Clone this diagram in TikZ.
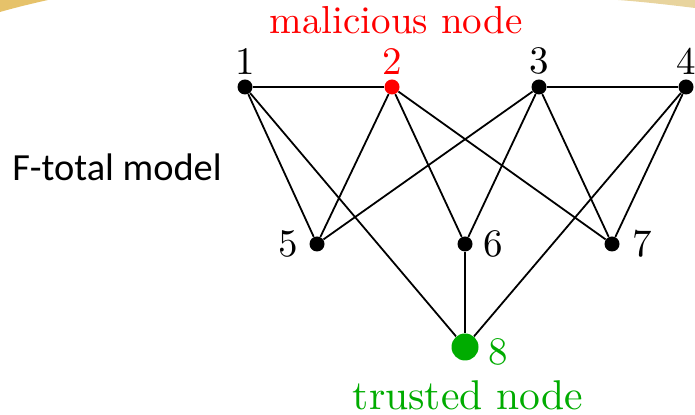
\documentclass[tikz,border=0pt]{standalone}
\usepackage{fontspec}
\newfontfamily\slidefont{Carlito}
\newfontfamily\labelfont{lmroman10-regular.otf}
\usepackage{tikz}
\usetikzlibrary{positioning}
\definecolor{badnode}{RGB}{255,0,0}
\definecolor{goodnode}{RGB}{0,172,0}
\definecolor{bandleft}{HTML}{E6C26A}
\definecolor{bandright}{HTML}{E8D49E}

\begin{document}
\begin{tikzpicture}[
  x=0.5pt, y=-0.5pt,
  vertex/.style={circle, fill=black, inner sep=0pt, minimum size=7.5pt},
  lbl/.style={inner sep=0pt, font=\labelfont\fontsize{19.5}{22}\selectfont},
  edge/.style={line width=0.9pt},
  every label/.style={lbl},
]
\useasboundingbox (0,0) rectangle (695,415);

% slide banner corners
\fill[bandleft] (0,0) -- (48,0) .. controls (30,4) and (14,8) .. (0,12) -- cycle;
\fill[bandright] (618,0) -- (695,0) -- (695,8) .. controls (670,5) and (645,2) .. (618,0) -- cycle;

% model name
\node[inner sep=0pt, font=\slidefont\fontsize{19.2}{22}\selectfont] (title) at (117,167) {F-total model};

% top row
\node[vertex, label={[label distance=2.25pt]above:1}] (n1) at (245,87) {};
\node[vertex, fill=badnode, label={[label distance=2.25pt, text=badnode]above:2}] (n2) at (392,87) {};
\node[vertex, label={[label distance=2.25pt]above:3}] (n3) at (539,87) {};
\node[vertex, label={[label distance=2.25pt]above:4}] (n4) at (686,87) {};

% middle row
\node[vertex, label={[label distance=5.5pt]left:5}] (n5) at (317,244) {};
\node[vertex, label={[label distance=5pt]right:6}] (n6) at (465,244) {};
\node[vertex, label={[label distance=6pt]right:7}] (n7) at (612,244) {};

% trusted node
\node[vertex, fill=goodnode, minimum size=13.5pt, label={[label distance=4.75pt, text=goodnode, yshift=-2.25pt]right:8}] (n8) at (465,347) {};

\node[lbl, text=badnode] (malicious) at (396,20.5) {malicious node};
\node[lbl, text=goodnode, font=\labelfont\fontsize{20.8}{24}\selectfont] (trusted) at (468,395.5) {trusted node};

% edges
\draw[edge] (n1) -- (n2);
\draw[edge] (n3) -- (n4);
\draw[edge] (n1) -- (n5);
\draw[edge] (n1) -- (n8);
\draw[edge] (n2) -- (n5);
\draw[edge] (n2) -- (n6);
\draw[edge] (n2) -- (n7);
\draw[edge] (n3) -- (n5);
\draw[edge] (n3) -- (n6);
\draw[edge] (n3) -- (n7);
\draw[edge] (n4) -- (n7);
\draw[edge] (n4) -- (n8);
\draw[edge] (n6) -- (n8);

\end{tikzpicture}
\end{document}
